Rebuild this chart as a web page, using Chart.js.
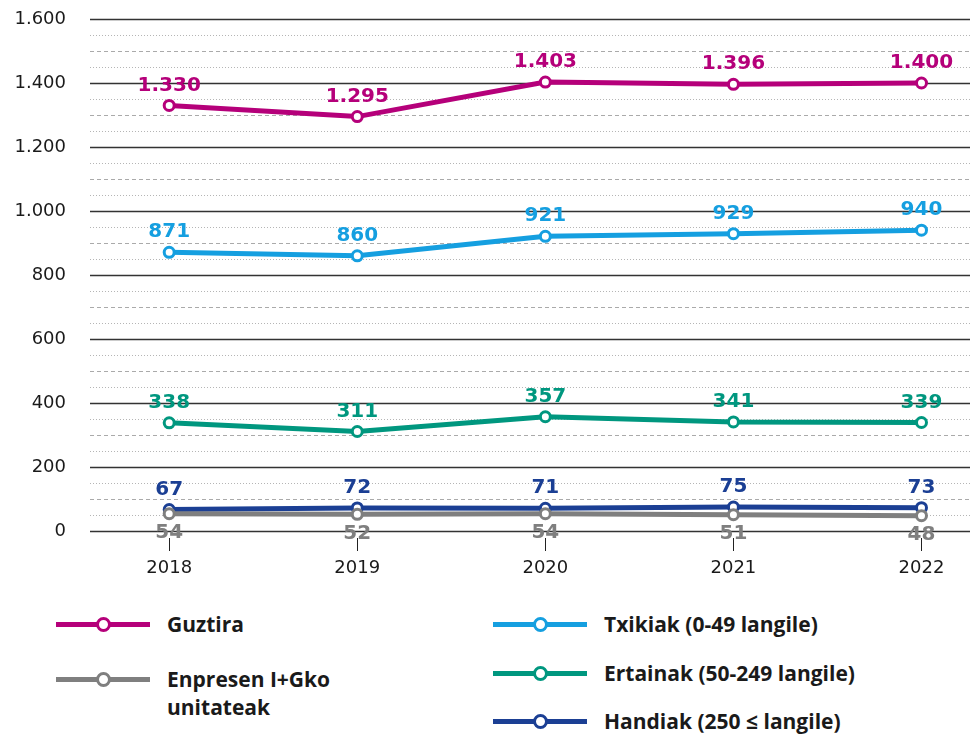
<!DOCTYPE html>
<html>
<head>
<meta charset="utf-8">
<script src="https://cdn.jsdelivr.net/npm/chart.js@4"></script>
<style>
  body { margin: 0; background: #fff; font-family: 'Open Sans', sans-serif; overflow: hidden; }
  #wrap { position: relative; width: 978px; height: 735px; overflow: hidden; }
  #lineChart { position: absolute; left: 0; top: 0; }
  .leg { position: absolute; font-weight: 700; font-size: 21px; color: #1a1a1a; line-height: 28px; }
  .sym { position: absolute; height: 5px; width: 94px; }
  .sym span { position: absolute; left: 40px; top: -5px; width: 9px; height: 9px; border-radius: 50%; background: #fff; border: 3px solid; }
</style>
</head>
<body>
<div id="wrap">
  <canvas id="lineChart" width="978" height="590"></canvas>
  <div id="legend"></div>
</div>
<script>
// chart data
const years = [2018, 2019, 2020, 2021, 2022];
const guztira = [1330, 1295, 1403, 1396, 1400];
const txikiak = [871, 860, 921, 929, 940];
const ertainak = [338, 311, 357, 341, 339];
const handiak = [67, 72, 71, 75, 73];
const enpresen = [54, 52, 54, 51, 48];
const yTicks = [0, 200, 400, 600, 800, 1000, 1200, 1400, 1600];

const series = [
  { label: 'Guztira', values: guztira, color: '#b5007a', below: false },
  { label: 'Txikiak (0-49 langile)', values: txikiak, color: '#159fe0', below: false },
  { label: 'Ertainak (50-249 langile)', values: ertainak, color: '#00977f', below: false },
  { label: 'Enpresen I+Gko unitateak', values: enpresen, color: '#7f7f7f', below: true },
  { label: 'Handiak (250 ≤ langile)', values: handiak, color: '#1b3f94', below: false }
];

const fmt = v => v.toLocaleString('de-DE');

// background grid: solid every 200, dashed at 100, dotted at 50
const gridPlugin = {
  id: 'gridLines',
  beforeDatasetsDraw(chart) {
    const ctx = chart.ctx, y = chart.scales.y, area = chart.chartArea;
    ctx.save();
    for (let v = 0; v <= 1600; v += 50) {
      const py = Math.round(y.getPixelForValue(v)) + 0.5;
      ctx.beginPath();
      if (v % 200 === 0) { ctx.strokeStyle = '#333'; ctx.lineWidth = 1.5; ctx.setLineDash([]); }
      else if (v % 100 === 0) { ctx.strokeStyle = '#aaa'; ctx.lineWidth = 1; ctx.setLineDash([4, 3]); }
      else { ctx.strokeStyle = '#b5b5b5'; ctx.lineWidth = 1; ctx.setLineDash([1, 2]); }
      ctx.moveTo(area.left, py);
      ctx.lineTo(area.right, py);
      ctx.stroke();
    }
    ctx.setLineDash([]);
    // small year ticks under the zero line
    const x = chart.scales.x;
    ctx.strokeStyle = '#222';
    ctx.lineWidth = 1;
    years.forEach(yr => {
      const px = Math.round(x.getPixelForValue(yr)) + 0.5;
      ctx.beginPath();
      ctx.moveTo(px, area.bottom + 7);
      ctx.lineTo(px, area.bottom + 20);
      ctx.stroke();
    });
    ctx.restore();
  }
};

// value labels above (or below) points
const labelPlugin = {
  id: 'valueLabels',
  afterDatasetsDraw(chart) {
    const ctx = chart.ctx;
    ctx.save();
    ctx.font = 'bold 20px "DejaVu Sans"';
    ctx.textAlign = 'center';
    ctx.textBaseline = 'middle';
    chart.data.datasets.forEach((ds, i) => {
      const meta = chart.getDatasetMeta(i);
      const s = series[i];
      ctx.fillStyle = s.color;
      meta.data.forEach((pt, j) => {
        const dy = s.below ? 19 : -20;
        ctx.fillText(fmt(s.values[j]), pt.x, pt.y + dy);
      });
    });
    ctx.restore();
  }
};

const ctx = document.getElementById('lineChart').getContext('2d');
const lineChart = new Chart(ctx, {
  type: 'line',
  data: {
    datasets: series.map(s => ({
      label: s.label,
      data: years.map((yr, i) => ({ x: yr, y: s.values[i] })),
      borderColor: s.color,
      backgroundColor: '#fff',
      borderWidth: 5,
      pointRadius: 5,
      pointBorderWidth: 3,
      pointBackgroundColor: '#fff',
      pointBorderColor: s.color,
      tension: 0
    }))
  },
  options: {
    responsive: false,
    animation: false,
    events: [],
    layout: { padding: { top: 19, left: 0, right: 0, bottom: 0 } },
    plugins: { legend: { display: false }, tooltip: { enabled: false } },
    scales: {
      x: {
        type: 'linear',
        min: 2018 - 80 / 190,
        max: 2022 + 49 / 190,
        grid: { display: false },
        border: { display: false },
        afterBuildTicks: scale => { scale.ticks = years.map(v => ({ value: v })); },
        afterFit: scale => { scale.height = 59; },
        ticks: {
          padding: 19,
          color: '#1a1a1a',
          font: { family: 'DejaVu Sans', size: 18 },
          callback: v => String(v)
        }
      },
      y: {
        min: 0,
        max: 1600,
        grid: { display: false },
        border: { display: false },
        afterBuildTicks: scale => { scale.ticks = yTicks.map(v => ({ value: v })); },
        afterFit: scale => {
          scale.width = 90;
          scale.paddingTop = 0;
          scale.paddingBottom = 0;
        },
        ticks: {
          padding: 16,
          color: '#1a1a1a',
          font: { family: 'DejaVu Sans', size: 18 },
          callback: v => fmt(v)
        }
      }
    }
  },
  plugins: [gridPlugin, labelPlugin]
});

// legend in two columns
const legendItems = [
  { s: series[0], lx: 56, ly: 624, tx: 167, text: 'Guztira' },
  { s: series[3], lx: 56, ly: 679, tx: 167, text: 'Enpresen I+Gko<br>unitateak' },
  { s: series[1], lx: 493, ly: 624, tx: 604, text: series[1].label },
  { s: series[2], lx: 493, ly: 673, tx: 604, text: series[2].label },
  { s: series[4], lx: 493, ly: 721, tx: 604, text: series[4].label }
];
const legend = document.getElementById('legend');
legendItems.forEach(it => {
  const sym = document.createElement('div');
  sym.className = 'sym';
  sym.style.left = it.lx + 'px';
  sym.style.top = (it.ly - 2.5) + 'px';
  sym.style.background = it.s.color;
  const dot = document.createElement('span');
  dot.style.borderColor = it.s.color;
  sym.appendChild(dot);
  legend.appendChild(sym);
  const t = document.createElement('div');
  t.className = 'leg';
  t.style.left = it.tx + 'px';
  t.style.top = (it.ly - 14) + 'px';
  t.innerHTML = it.text;
  legend.appendChild(t);
});
</script>
</body>
</html>
